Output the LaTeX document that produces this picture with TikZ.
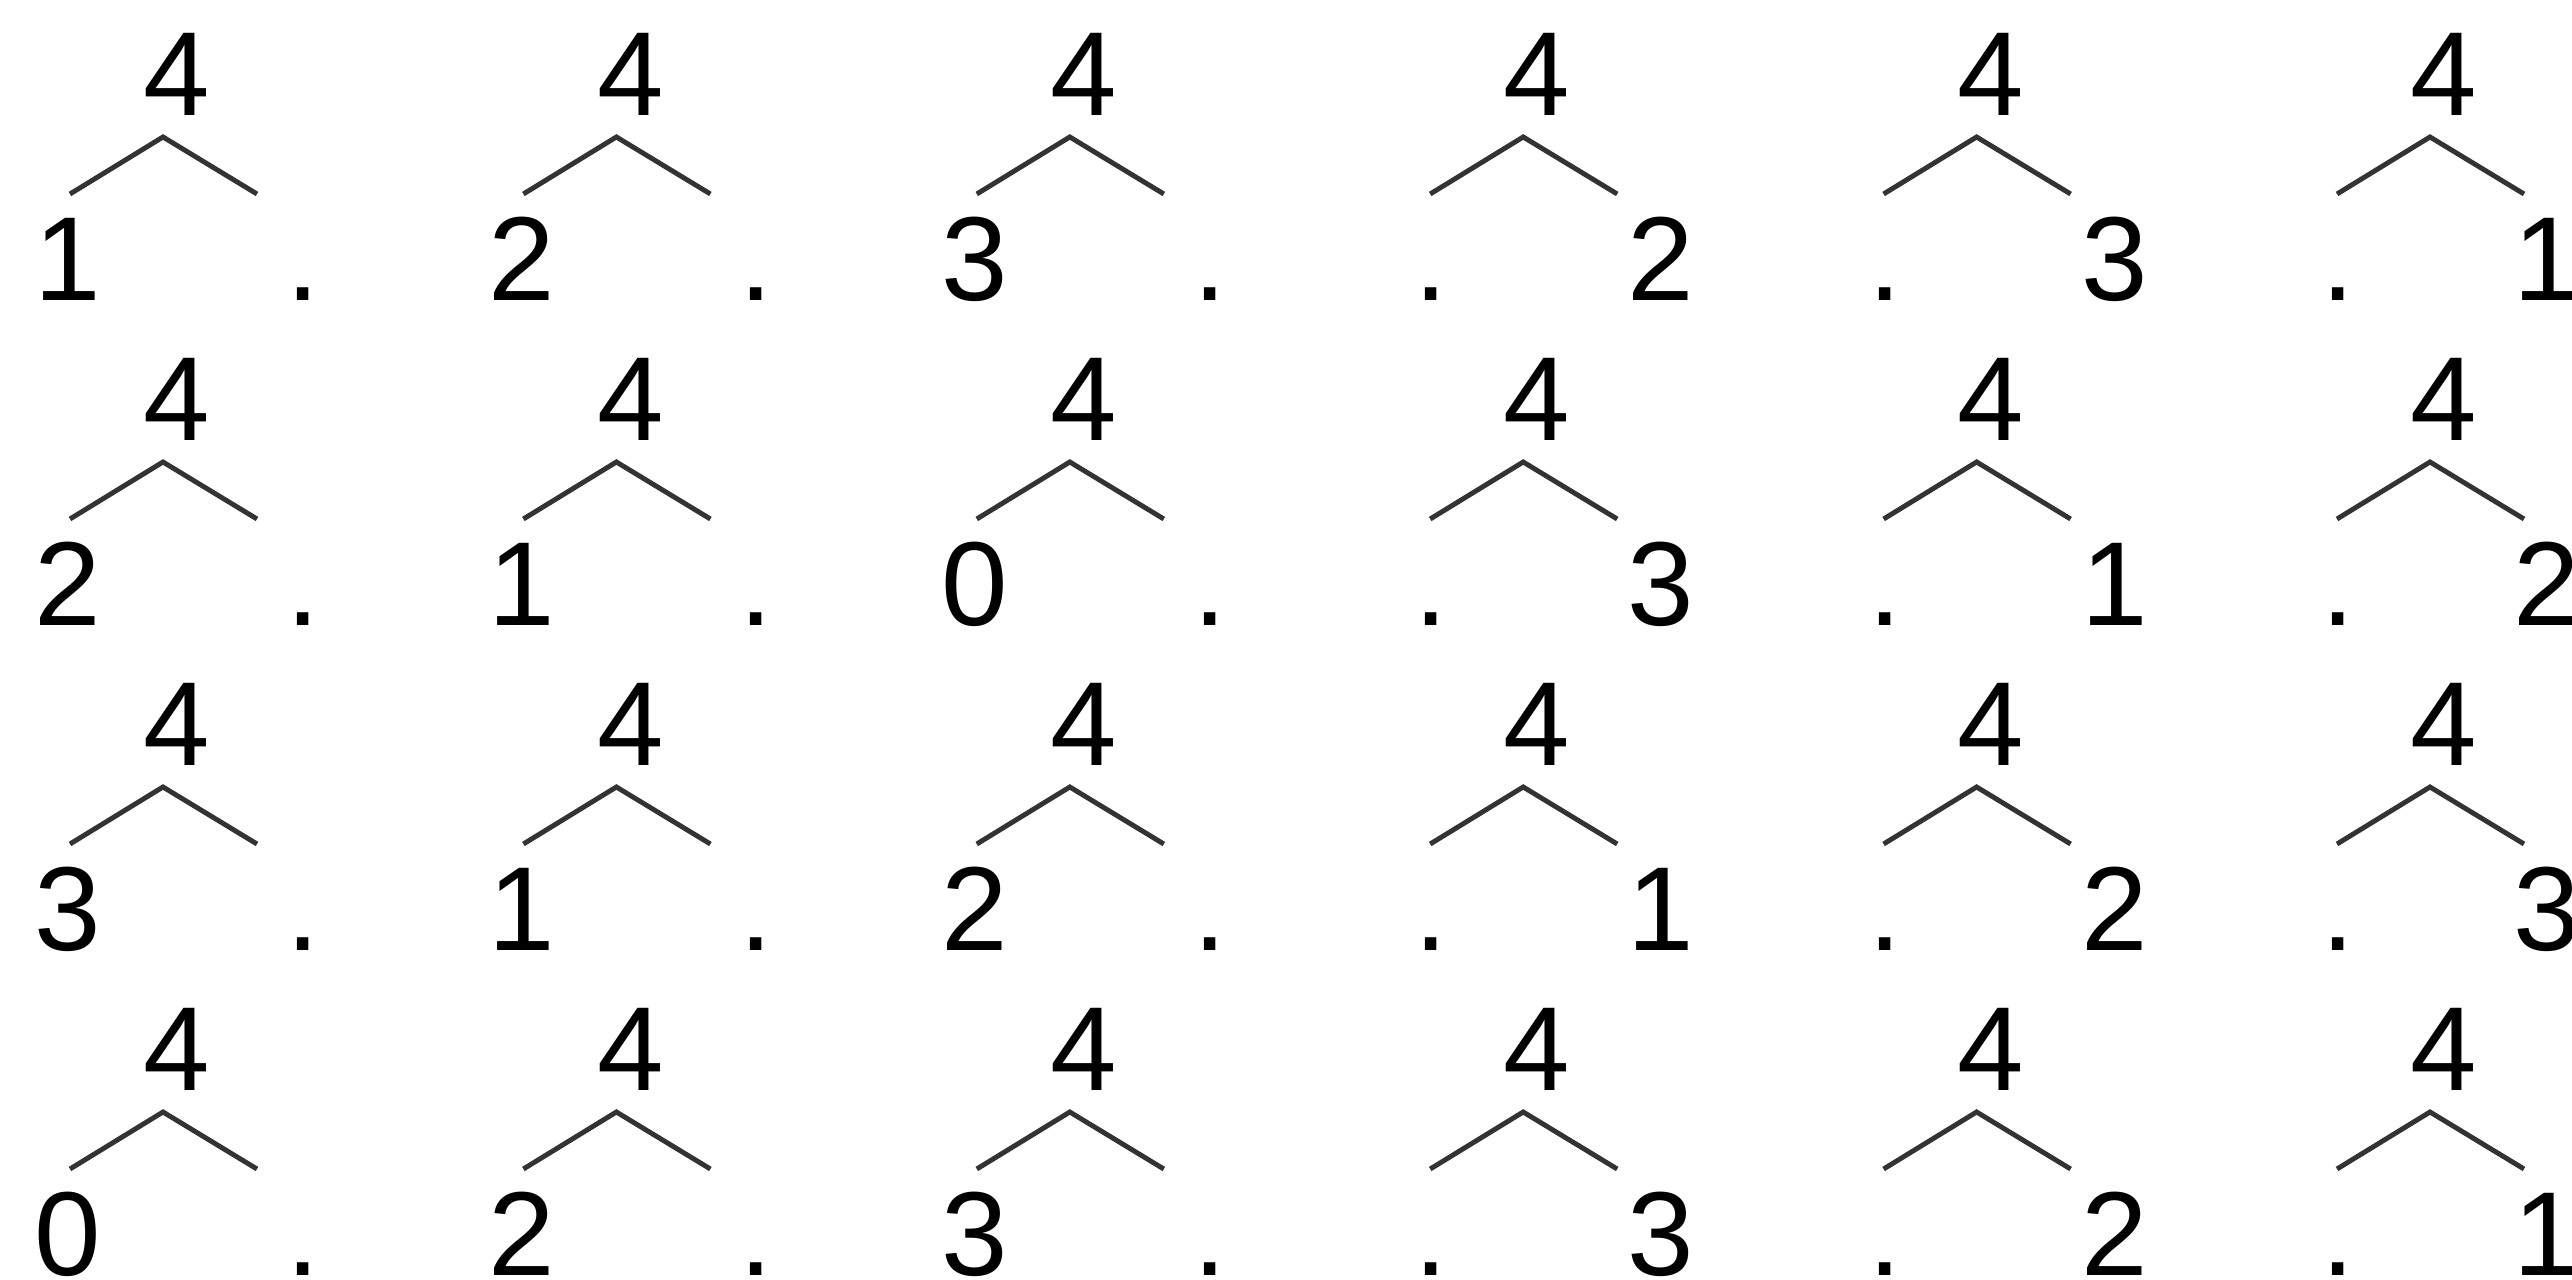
\documentclass[tikz,border=0pt]{standalone}
\usepackage{fontspec}
\setmainfont{Liberation Sans}
\usetikzlibrary{calc}

\begin{document}
\begin{tikzpicture}[
  whole/.style={
    anchor=base,
    inner sep=0pt,
    font=\fontsize{34}{40}\selectfont
  },
  branch/.style={line width=1.4pt,black!80}
]
\useasboundingbox (0,0) rectangle (25.72,-12.80);

\foreach \r/\vals in {1/{1,2,3,2,3,1},2/{2,1,0,3,1,2},3/{3,1,2,1,2,3},4/{0,2,3,3,2,1}}{
  \foreach \v [count=\c] in \vals {
    \pgfmathsetmacro{\px}{1.63+4.534*(\c-1)}
    \pgfmathsetmacro{\py}{-1.37-3.25*(\r-1)}
    \pgfmathsetmacro{\dx}{\c==6 ? 1.17 : 1.38}
    \coordinate (apex-\r-\c) at (\px,\py);
    \coordinate (lend-\r-\c) at ($(apex-\r-\c)+(-0.93,-0.57)$);
    \coordinate (rend-\r-\c) at ($(apex-\r-\c)+(0.94,-0.57)$);
    \node[whole] (top-\r-\c) at ($(apex-\r-\c)+(0.14,0.21)$) {4};
    \ifnum\c<4
      \node[whole] (part-\r-\c) at ($(apex-\r-\c)+(-0.95,-1.64)$) {\v};
      \node[whole] (dot-\r-\c) at ($(apex-\r-\c)+(1.40,-1.64)$) {.};
    \else
      \node[whole] (dot-\r-\c) at ($(apex-\r-\c)+(-0.92,-1.64)$) {.};
      \node[whole] (part-\r-\c) at ($(apex-\r-\c)+(\dx,-1.64)$) {\v};
    \fi
    \draw[branch] (lend-\r-\c) -- (apex-\r-\c) -- (rend-\r-\c);
  }
}
\end{tikzpicture}
\end{document}
